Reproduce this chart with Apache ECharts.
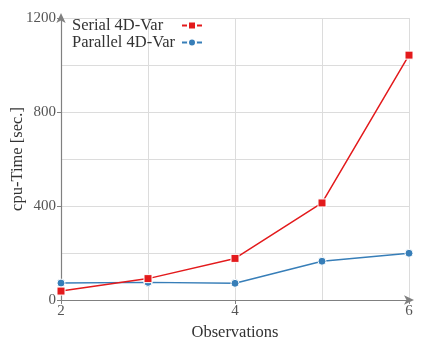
<!DOCTYPE html>
<html><head><meta charset="utf-8">
<script src="https://cdn.jsdelivr.net/npm/echarts@6/dist/echarts.min.js"></script>
<style>html,body{margin:0;padding:0;background:#fff}#c{width:422px;height:339px}</style>
</head><body><div id="c"></div>
<script>
const observations = [2, 3, 4, 5, 6];
const serial = [38, 91, 177, 413, 1042];
const parallel = [72, 75, 71, 165, 199];
const seriesNames = ['Serial 4D-Var', 'Parallel 4D-Var'];
const FONT = 'Liberation Serif';
const chart = echarts.init(document.getElementById('c'), null, {renderer: 'canvas'});
const axisCommon = {
  axisLine: {show: true, lineStyle: {color: '#808080', width: 1.2}, symbol: ['none', 'arrow'], symbolSize: [7, 10], symbolOffset: [0, 5]},
  axisTick: {show: true, length: 4, lineStyle: {color: '#808080'}},
  axisLabel: {color: '#555', fontFamily: FONT, fontSize: 15, formatter: v => String(v)},
  splitLine: {show: true, lineStyle: {color: '#dcdcdc', width: 1}},
  minorTick: {show: false, splitNumber: 2},
  minorSplitLine: {show: true, lineStyle: {color: '#dcdcdc', width: 1}},
  nameTextStyle: {color: '#333', fontFamily: FONT, fontSize: 16.5}
};
chart.setOption({
  animation: false,
  grid: {left: 61, right: 13, top: 18, bottom: 39, containLabel: false, outerBoundsMode: 'none'},
  legend: {
    orient: 'vertical', left: 67, top: 12, align: 'right', itemGap: 0,
    itemWidth: 20, itemHeight: 10,
    formatter: '{a|{name}}',
    textStyle: {fontFamily: FONT, fontSize: 16.5, color: '#333',
      rich: {a: {width: 105, align: 'left', fontFamily: FONT, fontSize: 16.5, color: '#333'}}},
    data: seriesNames
  },
  xAxis: Object.assign({}, axisCommon, {
    type: 'value', min: 2, max: 6, interval: 2,
    name: 'Observations', nameLocation: 'middle', nameGap: 21,
    axisLabel: Object.assign({}, axisCommon.axisLabel, {margin: 4})
  }),
  yAxis: Object.assign({}, axisCommon, {
    type: 'value', min: 0, max: 1200, interval: 400,
    name: 'cpu-Time [sec.]', nameLocation: 'middle', nameGap: 35, nameMoveOverlap: false,
    axisLabel: Object.assign({}, axisCommon.axisLabel, {margin: 5})
  }),
  series: [
    {name: seriesNames[0], type: 'line', data: observations.map((x, i) => [x, serial[i]]),
     symbol: 'rect', symbolSize: 8, color: '#e31a1c',
     lineStyle: {width: 1.5, color: '#e31a1c'},
     itemStyle: {color: '#e31a1c', borderColor: '#fff', borderWidth: 1}, z: 3},
    {name: seriesNames[1], type: 'line', data: observations.map((x, i) => [x, parallel[i]]),
     symbol: 'circle', symbolSize: 8, color: '#377eb8',
     lineStyle: {width: 1.5, color: '#377eb8'},
     itemStyle: {color: '#377eb8', borderColor: '#fff', borderWidth: 1}, z: 2}
  ]
});
</script></body></html>
